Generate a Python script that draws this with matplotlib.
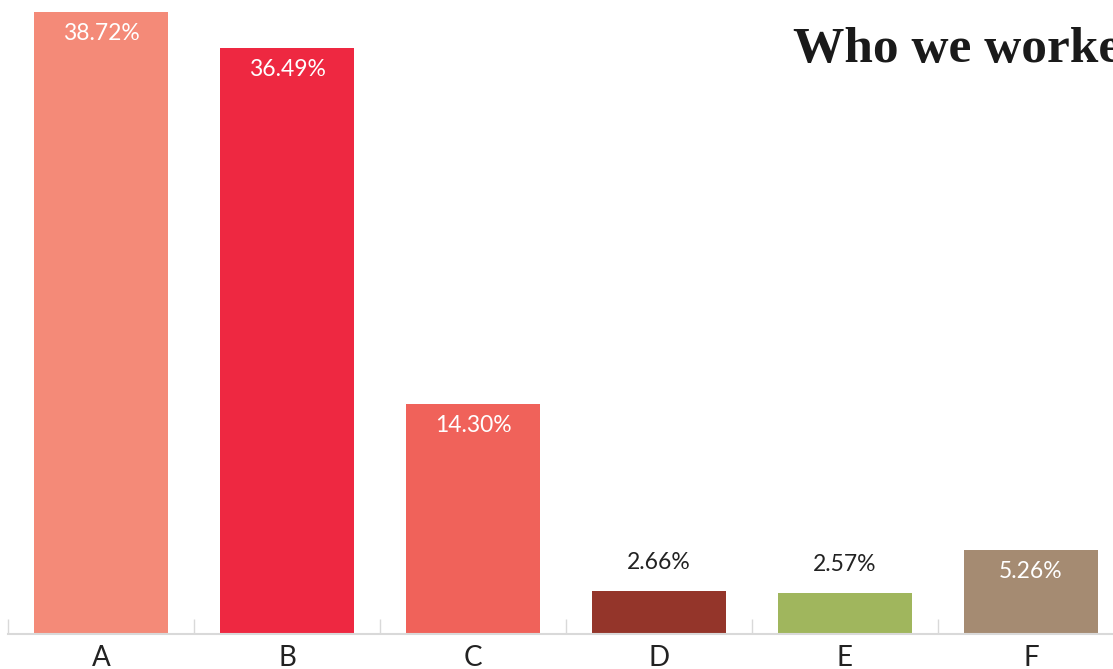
import matplotlib
matplotlib.use("Agg")
import matplotlib.pyplot as plt
import numpy as np

# datos del grafico
categories = ["A", "B", "C", "D", "E", "F"]
values = [38.72, 36.49, 14.30, 2.66, 2.57, 5.26]
colors = ["#F48A78", "#EE2841", "#F0625A", "#94352A", "#A0B65D", "#A58B72"]
title = "Who we worked with"

plt.rcParams['font.family'] = ['Lato', 'DejaVu Sans']

fig = plt.figure(figsize=(11.13, 6.69), dpi=100)
ax = fig.add_axes([8 / 1113, 35 / 669, 1116 / 1113, 634 / 669])

x = np.arange(len(categories))
bars = ax.bar(x, values, width=0.72, color=colors, zorder=2)

ax.set_xlim(-0.5, len(categories) - 0.5)
ax.set_ylim(0, 39.47)

# etiquetas de valor: dentro de la barra si cabe, encima si no
for xi, v in zip(x, values):
    label = f"{v:.2f}%"
    if v > 4:
        ax.annotate(label, (xi, v), xytext=(0, -8), textcoords="offset points",
                    ha="center", va="top", color="white", fontsize=16.5)
    else:
        ax.annotate(label, (xi, v), xytext=(0, 13), textcoords="offset points",
                    ha="center", va="bottom", color="#222222", fontsize=16.5)

ax.set_xticks(x)
ax.set_xticklabels(categories, fontsize=20, color="#222222")
ax.tick_params(axis="x", which="major", length=0, pad=8)
ax.set_xticks(np.arange(-0.5, len(categories)), minor=True)
ax.tick_params(axis="x", which="minor", direction="in", length=11, width=1, color="#d9d9d9")
ax.set_yticks([])

for side in ["left", "top", "right"]:
    ax.spines[side].set_visible(False)
ax.spines["bottom"].set_color("#d9d9d9")
ax.spines["bottom"].set_linewidth(1.5)
ax.spines["bottom"].set_zorder(3)

fig.text(793 / 1113, 1 - 62 / 669, title, fontsize=37, fontweight="bold",
         family=["Liberation Serif", "DejaVu Serif"], color="#1a1a1a",
         ha="left", va="baseline")

fig.savefig("out.png", dpi=100)
